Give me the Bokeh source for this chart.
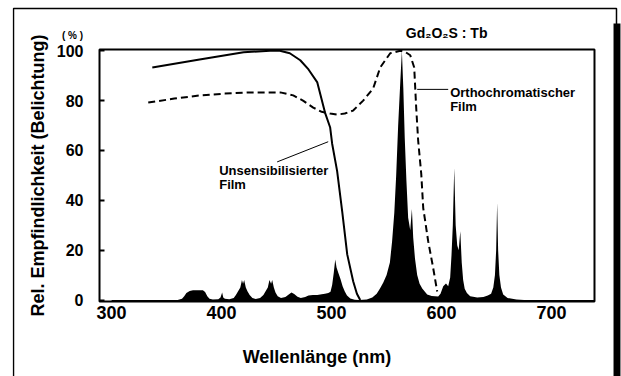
import math
from bokeh.plotting import figure
from bokeh.models import Range1d, FixedTicker, BoxAnnotation, Label
from bokeh.core.properties import value
from bokeh.embed import file_html
from bokeh.resources import INLINE

FONT = "Liberation Sans"

# ---- data ----
x_ticks = [300, 400, 500, 600, 700]
y_ticks = [0, 20, 40, 60, 80, 100]

unsens_nm = [337, 380, 420, 444, 453, 462, 471.5, 479, 487, 494, 498.7, 500.5, 505, 509.6, 514.2, 519.6, 523, 526]
unsens_val = [93.3, 96.5, 99.4, 100, 100, 99, 96.2, 92.5, 87.3, 75.2, 69.2, 62.7, 51.8, 35.7, 18.3, 7.5, 2.5, 0]

ortho_nm = [333.3, 357, 380.5, 403, 426, 453.3, 465.1, 474, 483.3, 491, 498.7, 505.1, 512, 519.6, 528.7, 537.8,
            544.2, 553.3, 562.4, 567, 571.5, 575.1, 576.9, 578.7, 581.5, 583.3, 587.8, 592.4, 596]
ortho_val = [79.2, 80.8, 82.1, 82.8, 83.3, 83.3, 82.1, 80, 77.2, 75.5, 74.8, 74.4, 74.8, 76, 80, 84.9,
             93.3, 99, 100, 99.5, 98.2, 93.3, 77.2, 63.9, 50.6, 36.9, 23.6, 12.7, 3.4]

spec_nm = [300, 360, 364, 366, 368, 371, 374, 383, 385, 387, 389, 392, 397, 399, 400.5, 401.5, 403, 407,
           411, 413, 415, 417, 418.5, 419.5, 420.5, 422, 423.5, 425.5, 428, 431,
           435, 438, 440, 442, 443.5, 445, 446, 447.5, 449, 451, 454,
           458, 461, 463.5, 466, 469, 472, 476, 479, 483, 487, 491, 494, 497, 499,
           500.5, 502, 503.3, 504.5, 506, 508, 510, 512, 514, 517, 521, 525,
           532, 537, 541, 544, 547, 550, 553, 555, 557, 558.7, 560.5, 562.5, 563.9,
           565.2, 566.5, 568, 569.6, 571.5, 573, 574.2, 575.8, 577.8, 580, 582.4, 586.9, 591, 596.9,
           599, 601.5, 604, 606, 607.8, 609, 610.2, 611.5, 612.8, 614.2, 615.5, 617, 618.3, 619.6, 621, 623,
           626, 632.4, 638, 642, 645, 647, 648.5, 649.6, 650.5, 651.4, 652.5, 654, 656, 660, 668, 675, 739]
spec_val = [0, 0, 0.5, 1.5, 2.8, 3.6, 3.9, 3.9, 3.2, 1.5, 0.5, 0.2, 0.3, 1, 3, 1, 0.5, 0.3,
            0.8, 2, 3.5, 5, 8, 6.5, 8, 5, 3.5, 2, 0.8, 0.4,
            0.8, 2, 3.5, 5, 8, 6.5, 8, 5, 3, 1.5, 0.8,
            1.2, 2.2, 3, 2.4, 1.3, 0.8, 1.2, 1.8, 2, 2, 2.3, 2.5, 2.8, 3.3,
            6, 11, 16.3, 13, 11, 8.5, 5.5, 3.4, 1.8, 0.6, 0.1, 0,
            0.2, 1, 2.5, 4.6, 7, 10, 15, 23.6, 35, 50, 70, 88, 100,
            85, 65, 48, 33, 28, 36.5, 25, 16.7, 10, 6.5, 4.6, 2.2, 1.6, 1.4,
            2.5, 5.5, 6.6, 5.5, 9, 18, 30, 53, 30, 22, 20, 27.6, 15, 8, 4.5, 2.8,
            1.5, 1, 1.2, 1.8, 2.5, 5, 10, 20, 39, 20, 10, 5, 2.2, 0.8, 0.2, 0, 0]

# inner plotting box (axis extent) and the full drawing area around it
X_INNER = (289, 739)
Y_INNER = (-0.6, 100.5)
X_RANGE = (209.9, 763.55)
Y_RANGE = (-30.69, 120.16)

p = figure(width=621, height=376, output_backend="svg", toolbar_location=None,
           x_range=Range1d(*X_RANGE), y_range=Range1d(*Y_RANGE),
           min_border_left=12, min_border_right=0, min_border_top=0, min_border_bottom=0)

p.background_fill_color = "white"
p.border_fill_color = "white"
p.outline_line_color = None
p.xgrid.visible = False
p.ygrid.visible = False

# outer page frame and shadow bar
p.add_layout(BoxAnnotation(left=210.8, right=759.0, top=116.95, bottom=-45,
                           fill_alpha=0, line_color="black", line_alpha=1, line_width=1.5))
p.add_layout(BoxAnnotation(left=756.3, right=762.6, top=110.93, bottom=-45,
                           fill_color="black", fill_alpha=1, line_alpha=0))

# spectrum of Gd2O2S:Tb
p.varea(x=spec_nm, y1=Y_INNER[0], y2=spec_val, fill_color="black")
# film sensitivity curves
p.line(unsens_nm, unsens_val, line_color="black", line_width=2)
p.line(ortho_nm, ortho_val, line_color="black", line_width=2, line_dash="7 4")

# inner plot box
p.add_layout(BoxAnnotation(left=X_INNER[0], right=X_INNER[1], bottom=Y_INNER[0], top=Y_INNER[1],
                           fill_alpha=0, line_color="black", line_alpha=1, line_width=2))

# annotations
p.segment(x0=[577.8, 450.5], y0=[84.5, 55.4], x1=[606, 496.9], y1=[84.5, 63.5],
          line_color="black", line_width=1)
p.text(x=[607.8, 607.8], y=[83.3, 77.6], text=["Orthochromatischer", "Film"],
       text_font=value(FONT), text_font_style="bold", text_font_size="13px",
       text_baseline="middle", text_align="left", text_color="black")
p.text(x=[397.8, 397.8], y=[51.8, 46.2], text=["Unsensibilisierter", "Film"],
       text_font=value(FONT), text_font_style="bold", text_font_size="13px",
       text_baseline="middle", text_align="left", text_color="black")

# axes, pinned to the inner box
xa = p.xaxis[0]
xa.fixed_location = Y_INNER[0]
xa.ticker = FixedTicker(ticks=x_ticks)
xa.axis_label = "Wellenlänge (nm)"
xa.axis_label_text_font = FONT
xa.axis_label_text_font_style = "bold"
xa.axis_label_text_font_size = "18px"
xa.axis_label_text_color = "black"
xa.axis_label_standoff = 24
xa.major_label_text_font = FONT
xa.major_label_text_font_style = "bold"
xa.major_label_text_font_size = "18px"
xa.major_label_text_color = "black"
xa.major_label_standoff = 5
xa.major_tick_in = 0
xa.major_tick_out = 0
xa.minor_tick_in = 0
xa.minor_tick_out = 0
xa.axis_line_color = None

ya = p.yaxis[0]
ya.fixed_location = X_INNER[0]
ya.ticker = FixedTicker(ticks=y_ticks)
ya.major_label_text_font = FONT
ya.major_label_text_font_style = "bold"
ya.major_label_text_font_size = "16px"
ya.major_label_text_color = "black"
ya.major_label_standoff = 16
ya.major_tick_in = 5
ya.major_tick_out = 0
ya.major_tick_line_width = 2
ya.minor_tick_in = 0
ya.minor_tick_out = 0
ya.axis_line_color = None

# y axis title (centred on the inner box)
p.add_layout(Label(x=233.5, y=(Y_INNER[0] + Y_INNER[1]) / 2, text="Rel. Empfindlichkeit (Belichtung)",
                   angle=math.pi / 2, text_font=FONT, text_font_style="bold", text_font_size="18px",
                   text_color="black", text_align="center", text_baseline="middle"))

# title and unit
p.add_layout(Label(x=641.7, y=107.3, text="Gd\u2082O\u2082S : Tb", text_font=FONT,
                   text_font_style="bold", text_font_size="14px", text_color="black",
                   text_align="right", text_baseline="middle"))
p.add_layout(Label(x=264.5, y=106.1, text="( % )", text_font=FONT,
                   text_font_style="bold", text_font_size="10px", text_color="black",
                   text_align="center", text_baseline="middle"))

open("out.html", "w").write(file_html(p, INLINE))
